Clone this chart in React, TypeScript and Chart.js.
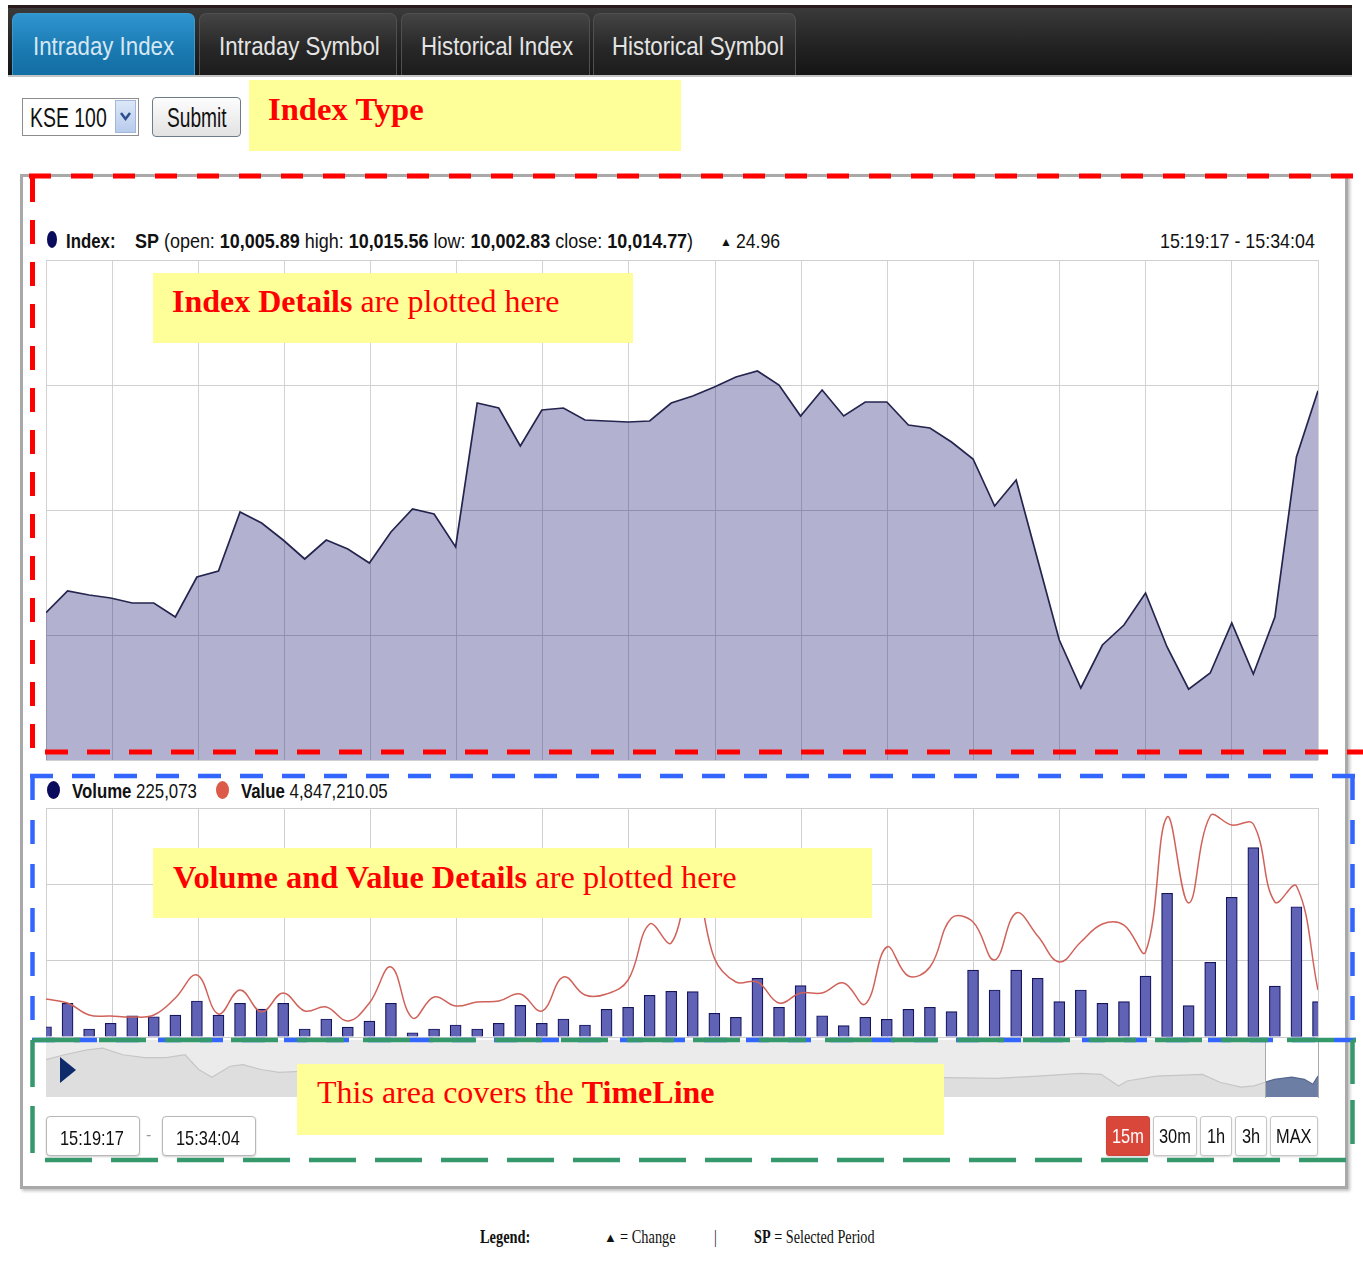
import React, { useEffect, useRef } from "react";
import { Chart, registerables } from "chart.js";

Chart.register(...registerables);

// ---------------- data ----------------
const tabLabels = ["Intraday Index", "Intraday Symbol", "Historical Index", "Historical Symbol"];
const indexName = "KSE 100";
const periodStart = "15:19:17";
const periodEnd = "15:34:04";
const sessionStart = "09:30:00";
const gridAxisStart = "15:19:14";
const gridAxisEnd = "15:34:00";
const gridTimes = ["15:20", "15:21", "15:22", "15:23", "15:24", "15:25", "15:26", "15:27", "15:28", "15:29", "15:30", "15:31", "15:32", "15:33", "15:34"];
const spOpen = "10,005.89";
const spHigh = "10,015.56";
const spLow = "10,002.83";
const spClose = "10,014.77";
const spChange = "24.96";
const totalVolume = "225,073";
const totalValue = "4,847,210.05";
const rangeButtons = ["15m", "30m", "1h", "3h", "MAX"];

const indexValues = [
  10005.89, 10006.76, 10006.6, 10006.48, 10006.28, 10006.28, 10005.72, 10007.32, 10007.56, 10009.92,
  10009.48, 10008.8, 10008.04, 10008.8, 10008.44, 10007.88, 10009.12, 10010.04, 10009.84, 10008.52,
  10014.28, 10014.08, 10012.56, 10014.0, 10014.08, 10013.6, 10013.56, 10013.52, 10013.56, 10014.28,
  10014.56, 10014.92, 10015.32, 10015.56, 10015.0, 10013.76, 10014.8, 10013.76, 10014.32, 10014.32,
  10013.4, 10013.28, 10012.72, 10012.04, 10010.16, 10011.2, 10008.0, 10004.8, 10002.88, 10004.6,
  10005.4, 10006.68, 10004.52, 10002.83, 10003.48, 10005.48, 10003.44, 10005.72, 10012.12, 10014.77,
];

const volumes = [
  1010, 3310, 790, 1350, 2090, 1990, 2160, 3540, 2160, 3310,
  2750, 3310, 790, 1770, 980, 1570, 3310, 420, 790, 1180,
  790, 1350, 3110, 1350, 1770, 1180, 2720, 2920, 4100, 4490,
  4470, 2330, 1940, 5770, 2920, 5040, 2090, 1110, 1940, 1740,
  2720, 2920, 2490, 6580, 4620, 6580, 5770, 3470, 4620, 3310,
  3470, 5990, 14120, 3080, 7340, 13730, 18600, 5010, 12800, 3470,
];

const tradeValues = [
  42310, 37860, 24500, 23380, 22270, 24500, 43430, 69040, 25610, 52330,
  27840, 48990, 28950, 33410, 17820, 37860, 77950, 21160, 44540, 34520,
  38970, 40090, 47880, 28950, 66810, 46770, 47880, 63470, 125830, 104670,
  183730, 87970, 61240, 61240, 37860, 48990, 48990, 60130, 36750, 100220,
  67920, 77950, 132510, 128050, 85740, 138070, 112460, 83510, 105780, 125830,
  124710, 94650, 244970, 149210, 246080, 236060, 237180, 150320, 168140, 52330,
];

// timeline (navigator): minutes since session start, index level
const navMinutes = [
  0, 5.3, 11.7, 16.2, 22, 28.2, 34.4, 39.8, 43.7, 47.5,
  52.7, 56.4, 61.5, 66.7, 72.7, 101, 130, 158.5, 187, 216,
  244, 257.3, 271.9, 283.9, 296, 302, 307, 309.4, 317.8, 331,
  336, 342, 345.7, 348.9, 351.7, 356.6, 360.2, 362.6, 364.06,
];
const navValues = [
  10033.9, 10039.9, 10045.9, 10048.0, 10039.9, 10036.3, 10036.3, 10039.9, 10021.8, 10012.1,
  10025.8, 10027.8, 10021.8, 10018.2, 10019.4, 10012.1, 10017.0, 10009.7, 10014.5, 10010.9,
  10013.3, 10011.8, 10010.9, 10013.7, 10017.0, 10015.8, 10001.6, 10007.7, 10013.7, 10015.8,
  10006.1, 10000.1, 10001.6, 10006.1, 10009.7, 10012.5, 10009.7, 10003.7, 10013.7,
];

// ---------------- helpers ----------------
const toSec = (t: string) => {
  const p = t.split(":").map(Number);
  return p[0] * 3600 + p[1] * 60 + (p[2] || 0);
};

function timeGridAxis(color: string) {
  const t0 = toSec(gridAxisStart);
  const t1 = toSec(gridAxisEnd);
  const ticks = [t0, ...gridTimes.map(toSec)].map((v) => v - t0);
  return {
    type: "linear",
    position: "bottom",
    min: 0,
    max: t1 - t0,
    offset: false,
    afterBuildTicks: (axis: any) => {
      axis.ticks = ticks.map((value) => ({ value }));
    },
    ticks: { display: false },
    grid: { color, drawTicks: false, lineWidth: 1, offset: false },
    border: { display: false },
  };
}

const SANS = "'Liberation Sans', Arial, sans-serif";
const SERIF = "'Liberation Serif', 'Times New Roman', serif";

type TP = {
  x: number;
  y: number;
  size: number;
  sx?: number;
  color?: string;
  weight?: number | string;
  serif?: boolean;
  children: React.ReactNode;
};
function T({ x, y, size, sx = 1, color = "#111", weight = 400, serif = false, children }: TP) {
  return (
    <div
      style={{
        position: "absolute",
        left: x,
        top: y - 0.845 * size,
        fontSize: size,
        lineHeight: `${size}px`,
        whiteSpace: "nowrap",
        color,
        fontWeight: weight as any,
        fontFamily: serif ? SERIF : SANS,
        transform: `scaleX(${sx})`,
        transformOrigin: "0 0",
      }}
    >
      {children}
    </div>
  );
}

function Yellow({ x, y, w, h }: { x: number; y: number; w: number; h: number }) {
  return <div style={{ position: "absolute", left: x, top: y, width: w, height: h, background: "#ffff99" }} />;
}

export default function App() {
  const idxRef = useRef<HTMLCanvasElement>(null);
  const volRef = useRef<HTMLCanvasElement>(null);
  const navRef = useRef<HTMLCanvasElement>(null);
  const selRef = useRef<HTMLCanvasElement>(null);

  const sessionLen = (toSec(periodEnd) - toSec(sessionStart)) / 60;
  const windowStart = (toSec(periodStart) - toSec(sessionStart)) / 60;
  const navLeft = 46;
  const navWidth = 1272;
  const selLeft = Math.round(navLeft + (navWidth * windowStart) / sessionLen);
  const selWidth = navLeft + navWidth - selLeft;

  useEffect(() => {
    const charts: Chart[] = [];
    const base: any = {
      animation: false,
      responsive: false,
      maintainAspectRatio: false,
      events: [],
      plugins: { legend: { display: false }, tooltip: { enabled: false } },
    };

    if (idxRef.current) {
      charts.push(
        new Chart(idxRef.current, {
          type: "line",
          data: {
            datasets: [
              {
                label: "Index",
                data: indexValues.map((v, i) => ({ x: i, y: v })),
                borderColor: "#24244f",
                borderWidth: 1.7,
                backgroundColor: "rgba(0,0,100,0.3)",
                fill: "start",
                pointRadius: 0,
                tension: 0,
              },
            ],
          },
          options: {
            ...base,
            layout: { padding: 6 },
            scales: {
              x: { type: "linear", min: 0, max: indexValues.length - 1, display: false },
              xt: timeGridAxis("#d3d3d3") as any,
              y: {
                min: 10000,
                max: 10020,
                ticks: { stepSize: 5, display: false },
                grid: { color: "#d0d0d0", drawTicks: false },
                border: { display: false },
              },
            },
          },
        } as any)
      );
    }

    if (volRef.current) {
      charts.push(
        new Chart(volRef.current, {
          type: "bar",
          data: {
            datasets: [
              {
                type: "line",
                label: "Value",
                data: tradeValues.map((v, i) => ({ x: i, y: v })),
                xAxisID: "x",
                yAxisID: "yv",
                borderColor: "#d0625a",
                borderWidth: 1.5,
                pointRadius: 0,
                tension: 0.4,
                fill: false,
                order: 0,
                clip: 0,
              },
              {
                type: "bar",
                label: "Volume",
                data: volumes.map((v, i) => ({ x: i, y: v })),
                xAxisID: "x",
                yAxisID: "y",
                backgroundColor: "#6063b5",
                borderColor: "#15155c",
                borderWidth: 1.2,
                barThickness: 11,
                order: 1,
                clip: 0,
              },
            ],
          },
          options: {
            ...base,
            layout: { padding: 6 },
            scales: {
              x: { type: "linear", min: 0, max: volumes.length - 1, offset: false, display: false, grid: { offset: false } },
              xt: timeGridAxis("#d0d0d0") as any,
              y: {
                min: 0,
                max: 22500,
                ticks: { stepSize: 7500, display: false },
                grid: { color: "#cdcdcd", drawTicks: false },
                border: { display: false },
              },
              yv: { type: "linear", position: "right", min: 0, max: 255000, display: false },
            },
          },
        } as any)
      );
    }

    const navData = navMinutes.map((m, i) => ({ x: m, y: navValues[i] }));
    if (navRef.current) {
      charts.push(
        new Chart(navRef.current, {
          type: "line",
          data: {
            datasets: [
              {
                data: navData,
                borderColor: "#c6c6c6",
                borderWidth: 1.2,
                backgroundColor: "#dedede",
                fill: "start",
                pointRadius: 0,
                tension: 0,
              },
            ],
          },
          options: {
            ...base,
            layout: { padding: 0 },
            scales: {
              x: { type: "linear", min: 0, max: sessionLen, display: false },
              y: { min: 9988, max: 10058, display: false },
            },
          },
        } as any)
      );
    }
    if (selRef.current) {
      charts.push(
        new Chart(selRef.current, {
          type: "line",
          data: {
            datasets: [
              {
                data: navData,
                borderColor: "#55678f",
                borderWidth: 1.2,
                backgroundColor: "#6d7ea5",
                fill: "start",
                pointRadius: 0,
                tension: 0,
              },
            ],
          },
          options: {
            ...base,
            layout: { padding: 0 },
            scales: {
              x: { type: "linear", min: windowStart, max: sessionLen, display: false },
              y: { min: 9988, max: 10058, display: false },
            },
          },
        } as any)
      );
    }
    return () => charts.forEach((c) => c.destroy());
  }, []);

  const tabs = [
    { x: 12, w: 183, tx: 33 },
    { x: 199, w: 198, tx: 219 },
    { x: 401, w: 189, tx: 421 },
    { x: 593, w: 203, tx: 612 },
  ];
  const btns = [
    { x: 1106, w: 44, tx: 1112 },
    { x: 1153, w: 44, tx: 1159 },
    { x: 1200, w: 32, tx: 1207 },
    { x: 1235, w: 32, tx: 1242 },
    { x: 1270, w: 48, tx: 1276 },
  ];

  const red = "#ff0000";
  const blue = "#3366ff";
  const green = "#35996b";

  return (
    <div
      id="app-root"
      style={{
        position: "absolute",
        left: 0,
        top: 0,
        width: 1363,
        height: 1272,
        overflow: "hidden",
        background: "#fff",
        fontFamily: SANS,
      }}
    >
      <style>{`#app-root * { box-sizing: border-box; }`}</style>

      {/* tab bar */}
      <div
        style={{
          position: "absolute",
          left: 8,
          top: 5,
          width: 1344,
          height: 71,
          background: "linear-gradient(#3a3a3a, #232323 55%, #141414)",
          borderTop: "3px solid #2a1c1c",
        }}
      />
      <div style={{ position: "absolute", left: 8, top: 75, width: 1344, height: 2, background: "#c4c4c4" }} />
      {tabs.map((t, i) => (
        <div
          key={"tab" + i}
          style={{
            position: "absolute",
            left: t.x,
            top: 13,
            width: t.w,
            height: 62,
            borderRadius: "7px 7px 0 0",
            background:
              i === 0
                ? "linear-gradient(#2f95cf, #1a79b1 60%, #136ea4)"
                : "linear-gradient(#444, #282828 55%, #1c1c1c)",
            border: `1px solid ${i === 0 ? "#3a9bd2" : "#505050"}`,
            borderBottom: "none",
          }}
        />
      ))}
      {tabLabels.map((l, i) => (
        <T key={"tl" + i} x={tabs[i].tx} y={55} size={25} sx={0.89} color={i === 0 ? "#d5e7f3" : "#e4e4e4"}>
          {l}
        </T>
      ))}

      {/* select + submit */}
      <div style={{ position: "absolute", left: 22, top: 98, width: 117, height: 38, border: "1px solid #8d8d8d", background: "#fff" }} />
      <T x={30} y={128} size={27} sx={0.72}>
        {indexName}
      </T>
      <div
        style={{
          position: "absolute",
          left: 115,
          top: 100,
          width: 21,
          height: 33,
          background: "linear-gradient(#dce7f8, #b8cbec)",
          border: "1px solid #a3b7da",
        }}
      >
        <svg width={19} height={31} style={{ position: "absolute", left: 0, top: 0 }}>
          <polyline points="5,12 9.5,18 14,12" fill="none" stroke="#2d4e8f" strokeWidth={2.5} />
        </svg>
      </div>
      <div
        style={{
          position: "absolute",
          left: 152,
          top: 97,
          width: 89,
          height: 40,
          border: "1px solid #6e7b88",
          borderRadius: 4,
          background: "linear-gradient(#fdfdfd, #e2e2e2)",
        }}
      />
      <T x={167} y={128} size={27} sx={0.71}>
        Submit
      </T>

      {/* panel */}
      <div
        style={{
          position: "absolute",
          left: 20,
          top: 174,
          width: 1328,
          height: 1015,
          border: "3px solid #a9a9a9",
          boxShadow: "2px 2px 3px rgba(0,0,0,0.25)",
          background: "#fff",
        }}
      />

      {/* index legend */}
      <div style={{ position: "absolute", left: 47, top: 231, width: 10, height: 17, borderRadius: "50%", background: "#0b0b5e" }} />
      <T x={66} y={248} size={21} sx={0.8} weight={700}>
        Index:
      </T>
      <T x={135} y={248} size={21} sx={0.855}>
        <b>SP</b> (open: <b>{spOpen}</b> high: <b>{spHigh}</b> low: <b>{spLow}</b> close: <b>{spClose}</b>)
      </T>
      <T x={720} y={246} size={12}>
        ▲
      </T>
      <T x={736} y={248} size={21} sx={0.84}>
        {spChange}
      </T>
      <T x={1160} y={248} size={21} sx={0.85}>
        {periodStart} - {periodEnd}
      </T>

      {/* index chart */}
      <canvas
        ref={idxRef}
        width={1284}
        height={512}
        style={{ position: "absolute", left: 40, top: 254, width: 1284, height: 512 }}
      />

      {/* volume legend */}
      <div style={{ position: "absolute", left: 47, top: 781, width: 13, height: 18, borderRadius: "50%", background: "#0b0b5e" }} />
      <T x={72} y={798} size={21} sx={0.8}>
        <b>Volume</b> {totalVolume}
      </T>
      <div style={{ position: "absolute", left: 216, top: 781, width: 13, height: 18, borderRadius: "50%", background: "#dc5a48" }} />
      <T x={241} y={798} size={21} sx={0.8}>
        <b>Value</b> {totalValue}
      </T>

      {/* volume chart */}
      <canvas
        ref={volRef}
        width={1284}
        height={241}
        style={{ position: "absolute", left: 40, top: 802, width: 1284, height: 241 }}
      />

      {/* navigator */}
      <canvas
        ref={navRef}
        width={navWidth}
        height={57}
        style={{ position: "absolute", left: navLeft, top: 1040, width: navWidth, height: 57, background: "#ebebeb" }}
      />
      <div
        style={{
          position: "absolute",
          left: selLeft - 1,
          top: 1040,
          width: selWidth + 2,
          height: 58,
          borderLeft: "1px solid #aaa",
          borderRight: "1px solid #aaa",
          background: "#fff",
        }}
      >
        <canvas
          ref={selRef}
          width={selWidth}
          height={57}
          style={{ position: "absolute", left: 0, top: 0, width: selWidth, height: 57 }}
        />
      </div>
      <div
        style={{
          position: "absolute",
          left: 60,
          top: 1057,
          width: 0,
          height: 0,
          borderLeft: "16px solid #0e2a6b",
          borderTop: "13px solid transparent",
          borderBottom: "13px solid transparent",
        }}
      />

      {/* time inputs */}
      {[46, 162].map((x, i) => (
        <div
          key={"tb" + i}
          style={{
            position: "absolute",
            left: x,
            top: 1116,
            width: 94,
            height: 40,
            border: "1px solid #b8b8b8",
            borderRadius: 4,
            boxShadow: "0 1px 2px rgba(0,0,0,0.2)",
            background: "#fff",
          }}
        />
      ))}
      <T x={60} y={1145} size={21} sx={0.78}>
        {periodStart}
      </T>
      <T x={146} y={1141} size={16} color="#999">
        -
      </T>
      <T x={176} y={1145} size={21} sx={0.78}>
        {periodEnd}
      </T>

      {/* range buttons */}
      {btns.map((b, i) => (
        <div
          key={"bt" + i}
          style={{
            position: "absolute",
            left: b.x,
            top: 1116,
            width: b.w,
            height: 40,
            border: `1px solid ${i === 0 ? "#c9443a" : "#c6c6c6"}`,
            borderRadius: 3,
            background: i === 0 ? "#d9473a" : "#fff",
            boxShadow: "0 1px 2px rgba(0,0,0,0.15)",
          }}
        />
      ))}
      {rangeButtons.map((l, i) => (
        <T key={"bl" + i} x={btns[i].tx} y={1143} size={21} sx={0.78} color={i === 0 ? "#fff" : "#111"}>
          {l}
        </T>
      ))}

      {/* yellow annotation boxes */}
      <Yellow x={249} y={80} w={432} h={71} />
      <T x={268} y={120} size={32} sx={1.02} serif weight={700} color={red}>
        Index Type
      </T>
      <Yellow x={153} y={273} w={480} h={70} />
      <T x={172} y={312} size={32} sx={1.0} serif color={red}>
        <b>Index Details</b> are plotted here
      </T>
      <Yellow x={153} y={848} w={719} h={70} />
      <T x={173} y={888} size={32} sx={1.012} serif color={red}>
        <b>Volume and Value Details</b> are plotted here
      </T>
      <Yellow x={297} y={1064} w={647} h={71} />
      <T x={317} y={1103} size={32} sx={1.0} serif color={red}>
        This area covers the <b>TimeLine</b>
      </T>

      {/* bottom legend */}
      <T x={480} y={1243} size={18} serif weight={700} sx={0.8}>
        Legend:
      </T>
      <T x={604} y={1242} size={13}>
        ▲
      </T>
      <T x={620} y={1243} size={18} serif sx={0.8}>
        = Change
      </T>
      <T x={714} y={1243} size={18} serif sx={0.78}>
        |
      </T>
      <T x={754} y={1243} size={18} serif sx={0.79}>
        <b>SP</b> = Selected Period
      </T>

      {/* dashed annotation frames */}
      <svg
        width={1363}
        height={1272}
        style={{ position: "absolute", left: 0, top: 0, pointerEvents: "none" }}
      >
        <g fill="none">
          <line x1={29} y1={176} x2={1363} y2={176} stroke={red} strokeWidth={5} strokeDasharray="22 20" />
          <line x1={32.5} y1={178} x2={32.5} y2={751} stroke={red} strokeWidth={5} strokeDasharray="24 18" />
          <line x1={45} y1={752} x2={1363} y2={752} stroke={red} strokeWidth={5} strokeDasharray="23 19" />

          <line x1={30} y1={776} x2={1356} y2={776} stroke={blue} strokeWidth={4.5} strokeDasharray="23 19" />
          <line x1={32.5} y1={776} x2={32.5} y2={1040} stroke={blue} strokeWidth={4.5} strokeDasharray="24 20" />
          <line x1={1352.5} y1={776} x2={1352.5} y2={1040} stroke={blue} strokeWidth={4.5} strokeDasharray="24 20" />
          <line x1={32} y1={1040} x2={1356} y2={1040} stroke={blue} strokeWidth={4.5} strokeDasharray="23 19" />

          <line x1={33} y1={1040} x2={1356} y2={1040} stroke={green} strokeWidth={4.5} strokeDasharray="47 19" />
          <line x1={32.5} y1={1040} x2={32.5} y2={1160} stroke={green} strokeWidth={4.5} strokeDasharray="47 19" />
          <line x1={1352.5} y1={1040} x2={1352.5} y2={1160} stroke={green} strokeWidth={4.5} strokeDasharray="44 16" />
          <line x1={45} y1={1160} x2={1352} y2={1160} stroke={green} strokeWidth={4.5} strokeDasharray="47 19" />
        </g>
      </svg>
    </div>
  );
}
